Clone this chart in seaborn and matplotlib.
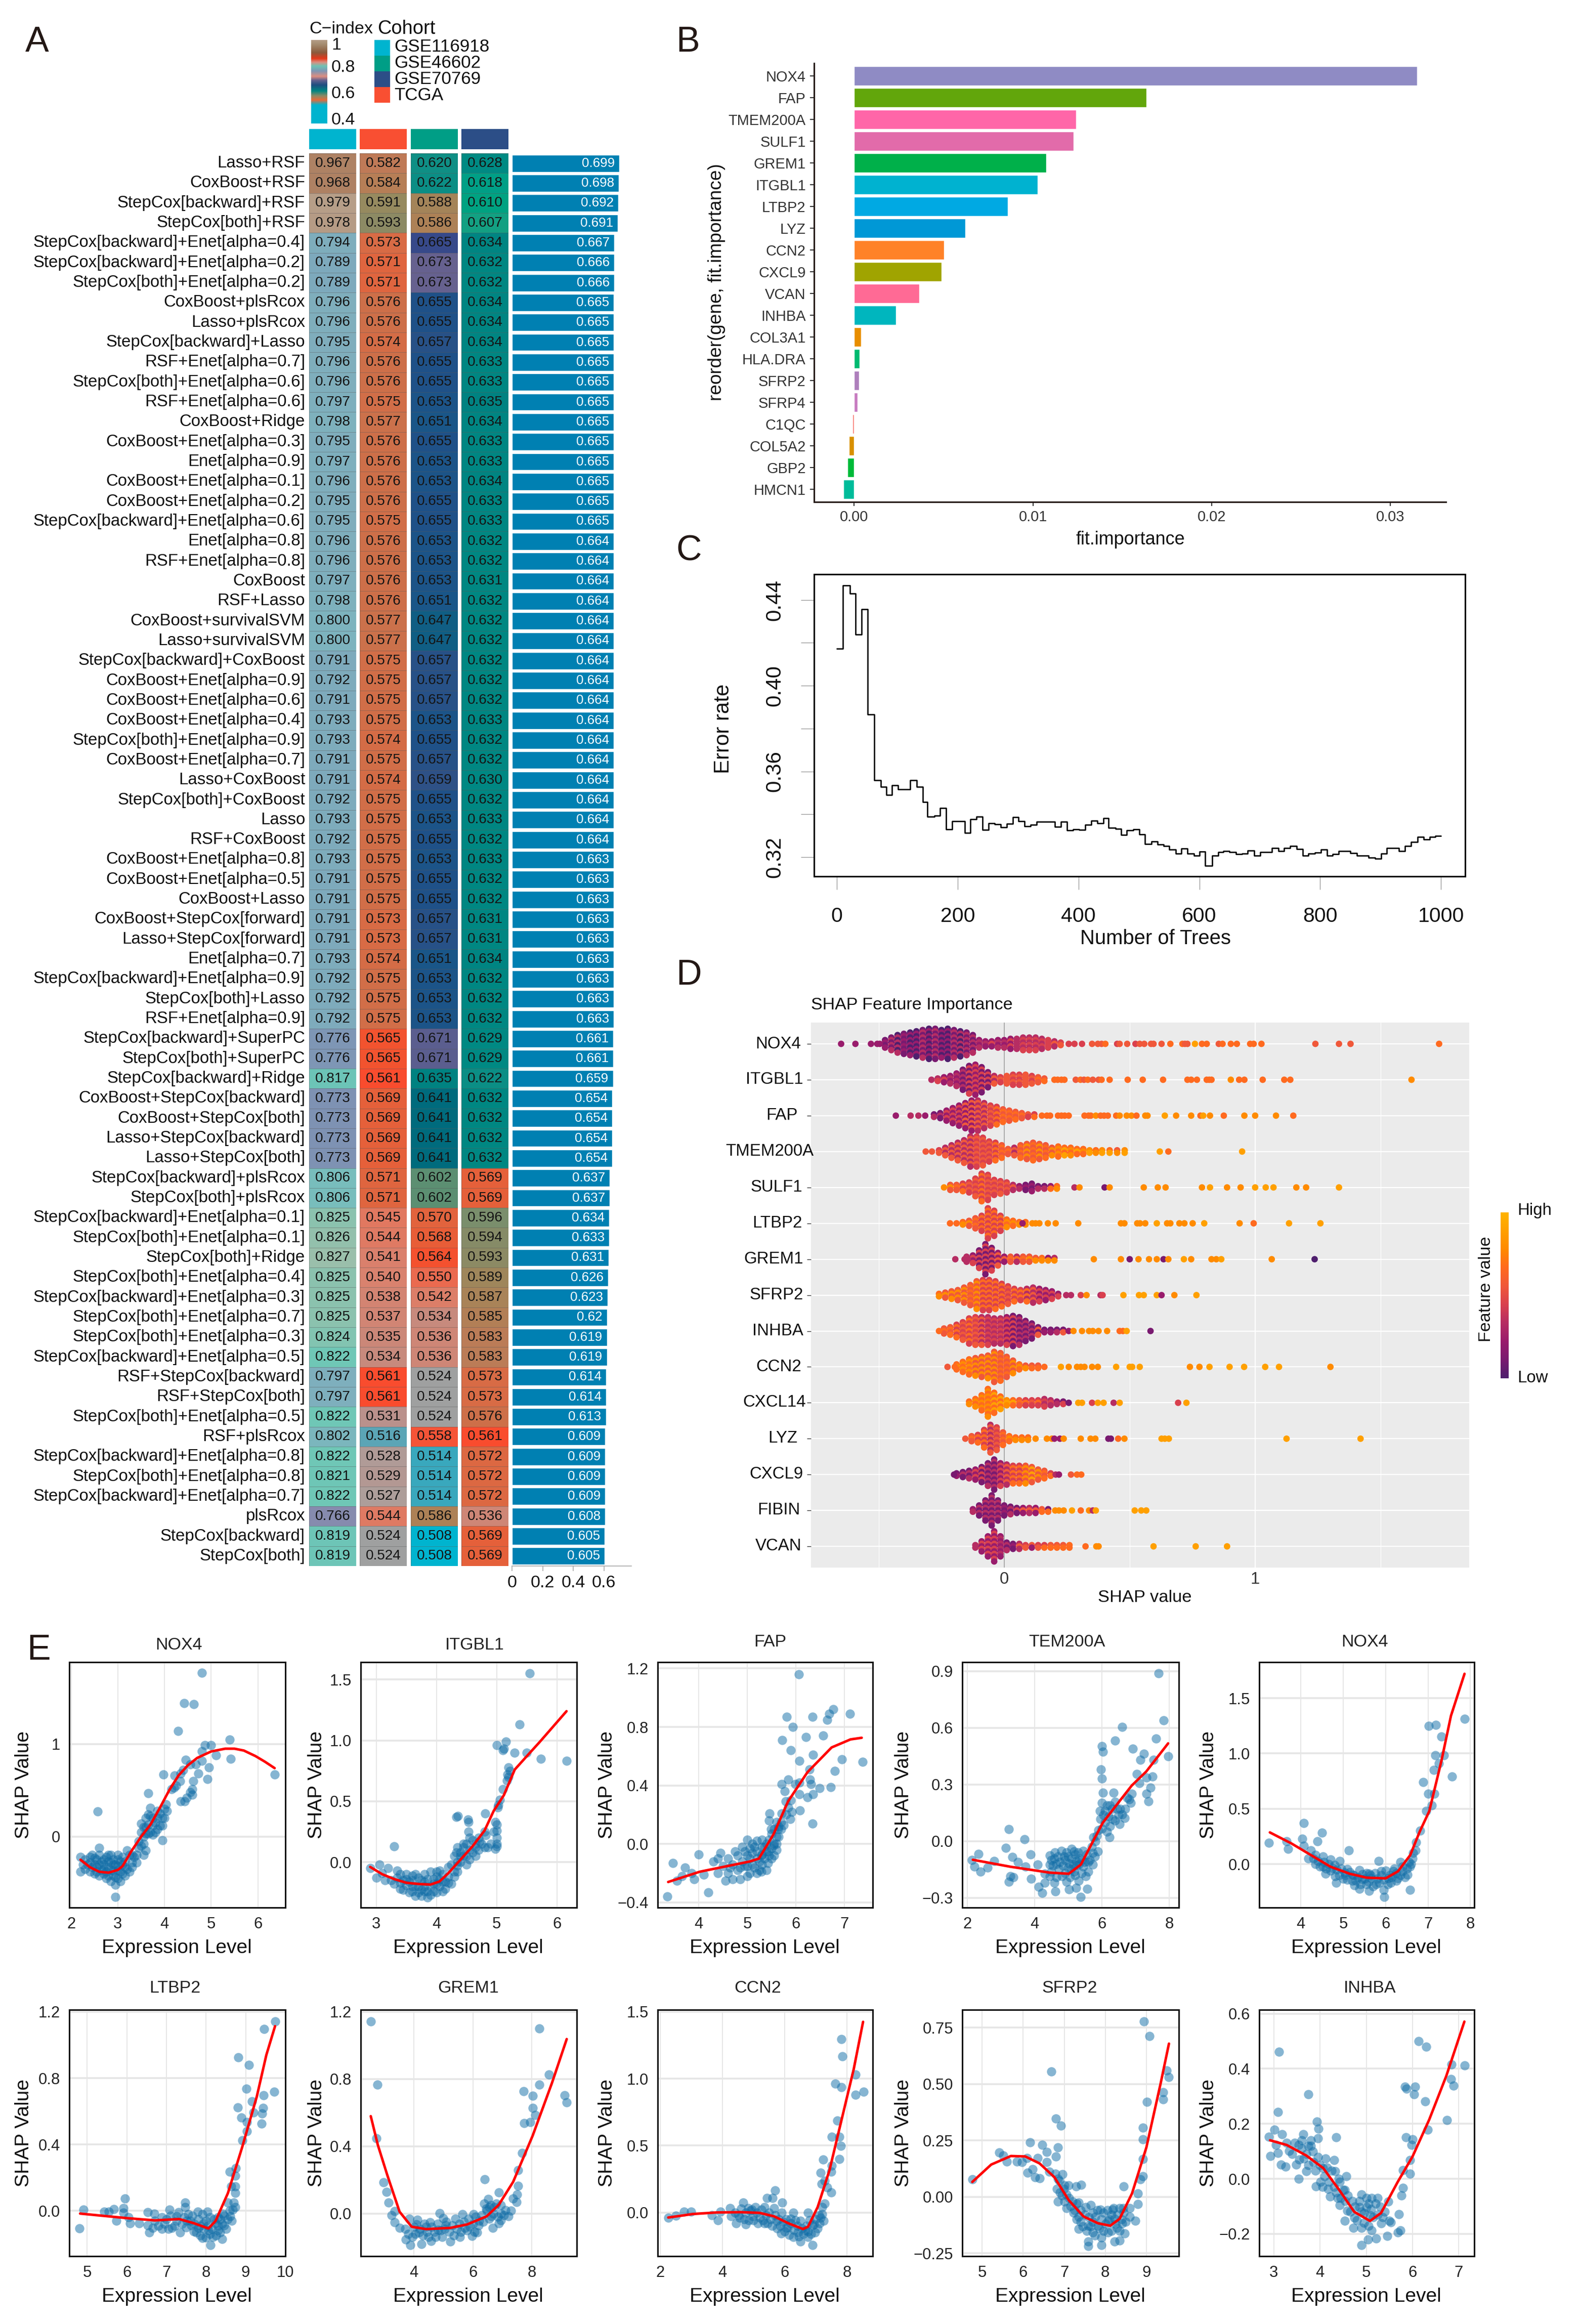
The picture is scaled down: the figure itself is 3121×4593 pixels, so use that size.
import numpy as np
import pandas as pd
import matplotlib
matplotlib.use("Agg")
import matplotlib.pyplot as plt
from matplotlib.colors import LinearSegmentedColormap
import seaborn as sns

sns.set_theme(style="white")
plt.rcParams["font.family"] = ["Liberation Sans", "DejaVu Sans"]

W, H = 3121, 4593

# ---------------- Panel A data ----------------
methods = [
 "Lasso+RSF","CoxBoost+RSF","StepCox[backward]+RSF","StepCox[both]+RSF",
 "StepCox[backward]+Enet[alpha=0.4]","StepCox[backward]+Enet[alpha=0.2]","StepCox[both]+Enet[alpha=0.2]",
 "CoxBoost+plsRcox","Lasso+plsRcox","StepCox[backward]+Lasso","RSF+Enet[alpha=0.7]","StepCox[both]+Enet[alpha=0.6]",
 "RSF+Enet[alpha=0.6]","CoxBoost+Ridge","CoxBoost+Enet[alpha=0.3]","Enet[alpha=0.9]","CoxBoost+Enet[alpha=0.1]",
 "CoxBoost+Enet[alpha=0.2]","StepCox[backward]+Enet[alpha=0.6]","Enet[alpha=0.8]","RSF+Enet[alpha=0.8]","CoxBoost",
 "RSF+Lasso","CoxBoost+survivalSVM","Lasso+survivalSVM","StepCox[backward]+CoxBoost","CoxBoost+Enet[alpha=0.9]",
 "CoxBoost+Enet[alpha=0.6]","CoxBoost+Enet[alpha=0.4]","StepCox[both]+Enet[alpha=0.9]","CoxBoost+Enet[alpha=0.7]",
 "Lasso+CoxBoost","StepCox[both]+CoxBoost","Lasso","RSF+CoxBoost","CoxBoost+Enet[alpha=0.8]","CoxBoost+Enet[alpha=0.5]",
 "CoxBoost+Lasso","CoxBoost+StepCox[forward]","Lasso+StepCox[forward]","Enet[alpha=0.7]","StepCox[backward]+Enet[alpha=0.9]",
 "StepCox[both]+Lasso","RSF+Enet[alpha=0.9]","StepCox[backward]+SuperPC","StepCox[both]+SuperPC","StepCox[backward]+Ridge",
 "CoxBoost+StepCox[backward]","CoxBoost+StepCox[both]","Lasso+StepCox[backward]","Lasso+StepCox[both]",
 "StepCox[backward]+plsRcox","StepCox[both]+plsRcox","StepCox[backward]+Enet[alpha=0.1]","StepCox[both]+Enet[alpha=0.1]",
 "StepCox[both]+Ridge","StepCox[both]+Enet[alpha=0.4]","StepCox[backward]+Enet[alpha=0.3]","StepCox[both]+Enet[alpha=0.7]",
 "StepCox[both]+Enet[alpha=0.3]","StepCox[backward]+Enet[alpha=0.5]","RSF+StepCox[backward]","RSF+StepCox[both]",
 "StepCox[both]+Enet[alpha=0.5]","RSF+plsRcox","StepCox[backward]+Enet[alpha=0.8]","StepCox[both]+Enet[alpha=0.8]",
 "StepCox[backward]+Enet[alpha=0.7]","plsRcox","StepCox[backward]","StepCox[both]"]
gse116918 = [.967,.968,.979,.978,.794,.789,.789,.796,.796,.795,.796,.796,.797,.798,.795,.797,.796,.795,.795,.796,.796,.797,
 .798,.800,.800,.791,.792,.791,.793,.793,.791,.791,.792,.793,.792,.793,.791,.791,.791,.791,.793,.792,.792,.792,.776,.776,
 .817,.773,.773,.773,.773,.806,.806,.825,.826,.827,.825,.825,.825,.824,.822,.797,.797,.822,.802,.822,.821,.822,.766,.819,.819]
tcga = [.582,.584,.591,.593,.573,.571,.571,.576,.576,.574,.576,.576,.575,.577,.576,.576,.576,.576,.575,.576,.576,.576,
 .576,.577,.577,.575,.575,.575,.575,.574,.575,.574,.575,.575,.575,.575,.575,.575,.573,.573,.574,.575,.575,.575,.565,.565,
 .561,.569,.569,.569,.569,.571,.571,.545,.544,.541,.540,.538,.537,.535,.534,.561,.561,.531,.516,.528,.529,.527,.544,.524,.524]
gse46602 = [.620,.622,.588,.586,.665,.673,.673,.655,.655,.657,.655,.655,.653,.651,.655,.653,.653,.655,.655,.653,.653,.653,
 .651,.647,.647,.657,.657,.657,.653,.655,.657,.659,.655,.653,.655,.653,.655,.655,.657,.657,.651,.653,.653,.653,.671,.671,
 .635,.641,.641,.641,.641,.602,.602,.570,.568,.564,.550,.542,.534,.536,.536,.524,.524,.524,.558,.514,.514,.514,.586,.508,.508]
gse70769 = [.628,.618,.610,.607,.634,.632,.632,.634,.634,.634,.633,.633,.635,.634,.633,.633,.634,.633,.633,.632,.632,.631,
 .632,.632,.632,.632,.632,.632,.633,.632,.632,.630,.632,.633,.632,.633,.632,.632,.631,.631,.634,.632,.632,.632,.629,.629,
 .622,.632,.632,.632,.632,.569,.569,.596,.594,.593,.589,.587,.585,.583,.583,.573,.573,.576,.561,.572,.572,.572,.536,.569,.569]
mean_cindex = [.699,.698,.692,.691,.667,.666,.666,.665,.665,.665,.665,.665,.665,.665,.665,.665,.665,.665,.665,.664,.664,.664,
 .664,.664,.664,.664,.664,.664,.664,.664,.664,.664,.664,.664,.664,.663,.663,.663,.663,.663,.663,.663,.663,.663,.661,.661,
 .659,.654,.654,.654,.654,.637,.637,.634,.633,.631,.626,.623,.62,.619,.619,.614,.614,.613,.609,.609,.609,.609,.608,.605,.605]
cohort_order = ["GSE116918","TCGA","GSE46602","GSE70769"]
cohort_colors = {"GSE116918":"#00B4CF","GSE46602":"#009E86","GSE70769":"#2C4E87","TCGA":"#F94F32"}
legend_cohorts = ["GSE116918","GSE46602","GSE70769","TCGA"]

heat_stops = [(.5,"#00B4CF"),(.508,"#00B4CF"),(.514,"#3AA8BD"),(.516,"#5BA5B6"),(.524,"#A0A0A0"),(.527,"#AD9E9A"),
 (.531,"#BA918C"),(.535,"#CB8778"),(.540,"#D9826E"),(.544,"#DF7A63"),(.550,"#EA6A4F"),(.561,"#F94C2E"),(.565,"#F2532F"),
 (.569,"#E5603A"),(.573,"#D86B45"),(.576,"#CD6F49"),(.582,"#BF7A57"),(.586,"#AD8156"),(.591,"#968A5F"),(.593,"#8C8A64"),
 (.596,"#7A8E6C"),(.602,"#5C8F72"),(.607,"#12A082"),(.610,"#00A281"),(.618,"#009F86"),(.620,"#0F8F85"),(.628,"#008A83"),
 (.634,"#008582"),(.641,"#006B7D"),(.651,"#1A5688"),(.655,"#1F5188"),(.659,"#2E5186"),(.665,"#37498A"),(.671,"#5B5E8F"),
 (.673,"#66618F"),(.766,"#868BAE"),(.773,"#7E92B3"),(.776,"#7E96B5"),(.789,"#7DA9BC"),(.796,"#7FAEBC"),(.80,"#7DB3BE"),
 (.806,"#78BDBC"),(.817,"#6CC4B7"),(.822,"#6FC7B6"),(.825,"#8BC2AE"),(.827,"#9ABFAB"),(.96,"#B08A6E"),(.968,"#AE8163"),
 (.979,"#B69E88"),(1.0,"#B49C86")]
legend_stops = [(0,"#00B4CF"),(.22,"#00B4CF"),(.28,"#E56A3A"),(.33,"#8C8A64"),(.39,"#008582"),(.46,"#1F4E80"),(.52,"#66618F"),
 (.565,"#DD8E80"),(.63,"#7E96B5"),(.69,"#6FC3B4"),(.735,"#DD8E80"),(.78,"#E3381B"),(.85,"#8A5A3C"),(.95,"#A58D70"),(1,"#B49C86")]

# ---------------- Panel B data ----------------
b_genes = ["NOX4","FAP","TMEM200A","SULF1","GREM1","ITGBL1","LTBP2","LYZ","CCN2","CXCL9","VCAN","INHBA","COL3A1","HLA.DRA",
 "SFRP2","SFRP4","C1QC","COL5A2","GBP2","HMCN1"]
b_importance = [.0315,.01636,.01241,.01227,.01074,.01027,.0086,.00623,.00502,.00488,.00364,.00234,.0004,.00031,.00029,.0002,
 -.00008,-.00028,-.00038,-.0006]
b_colors = ["#8F8BC4","#62A60B","#FF66A8","#E26BAA","#00B04A","#00B2D0","#00A9E3","#0098D6","#FF8228","#A0A400","#FF6A95",
 "#00B6BE","#E88E00","#00BA70","#AE7FBC","#C77CC0","#F8766D","#D89000","#00BA38","#00BC9A"]

# ---------------- Panel C data ----------------
c_trees = [0,10,22,31,41,51,62,73,82,91,101,121,132,142,150,162,171,181,191,212,221,231,241,251,261,271,281,291,301,311,321,331,
 361,371,381,391,401,411,421,431,441,450,461,471,480,491,501,510,521,531,541,550,561,570,580,591,600,610,621,631,640,650,661,
 671,680,691,701,720,731,740,750,761,771,780,791,801,811,821,831,850,861,880,891,901,910,930,940,950,961,971,981,991,1000]
c_error = [.4172,.4469,.4431,.4240,.4357,.3866,.3558,.3527,.3490,.3535,.3516,.3559,.3527,.3457,.3388,.3394,.3429,.3329,.3367,.3312,
 .3378,.3388,.3327,.3358,.3353,.3340,.3355,.3387,.3367,.3343,.3351,.3364,.3341,.3364,.3324,.3329,.3327,.3351,.3369,.3358,.3382,
 .3336,.3331,.3304,.3324,.3330,.3307,.3260,.3273,.3258,.3252,.3234,.3217,.3240,.3216,.3208,.3225,.3160,.3206,.3224,.3228,.3224,
 .3213,.3216,.3231,.3208,.3224,.3242,.3228,.3242,.3252,.3237,.3208,.3216,.3222,.3236,.3207,.3213,.3228,.3219,.3206,.3198,.3192,
 .3216,.3242,.3228,.3252,.3270,.3294,.3282,.3294,.3298,.3298]

# ---------------- Panel D data: (shap bin, dots in bin, colour level a, colour level b) ----------------
d_genes = ["NOX4","ITGBL1","FAP","TMEM200A","SULF1","LTBP2","GREM1","SFRP2","INHBA","CCN2","CXCL14","LYZ","CXCL9","FIBIN","VCAN"]
NOX4_core = [(-.475,4,1,2),(-.45,6,1,3),(-.425,8,0,3),(-.4,9,1,2),(-.375,10,0,2),(-.35,11,0,2),(-.325,12,1,3),(-.3,13,0,2),
 (-.275,13,1,3),(-.25,12,0,2),(-.225,13,0,2),(-.2,12,1,3),(-.175,11,0,3),(-.15,10,1,3),(-.125,8,1,3),(-.1,4,2,3),(-.075,3,2,3),
 (-.05,3,2,4),(-.025,4,2,3),(0,4,2,3),(.025,5,2,4),(.05,5,3,3),(.075,6,3,4),(.1,6,3,4),(.125,6,3,4),(.15,5,3,4),(.175,4,4,4),(.2,3,3,5),(.225,2,4,5)]
NOX4_tail = [(-.65,2),(-.593,2),(-.531,2),(-.506,2),(-.496,2),(.257,4),(.28,4),(.31,4),(.35,5),(.373,5),(.388,5),(.403,6),(.45,4),
 (.46,5),(.49,5),(.523,4),(.54,5),(.558,5),(.585,5),(.595,5),(.627,5),(.662,6),(.71,6),(.72,5),(.73,5),(.76,8),(.788,6),(.807,6),
 (.855,5),(.87,6),(.903,6),(.927,6),(.98,6),(.994,6),(1.025,6),(1.24,5),(1.334,5),(1.38,5),(1.733,6)]
ITGBL1_core = [(-.29,1,3,3),(-.265,2,3,4),(-.24,3,2,4),(-.215,4,2,3),(-.19,6,2,3),(-.165,9,1,3),(-.14,12,1,4),(-.115,13,2,4),(-.09,11,1,4),
 (-.065,7,1,4),(-.04,4,3,5),(-.015,3,4,5),(.01,4,5,5),(.035,5,4,5),(.06,5,4,5),(.085,5,5,5),(.11,4,4,5),(.135,3,5,6),(.16,2,5,6)]
ITGBL1_tail = [(.2,6),(.213,6),(.228,6),(.24,6),(.285,5),(.304,6),(.318,5),(.333,6),(.353,5),(.376,5),(.388,6),(.42,6),(.492,6),(.552,6),
 (.633,6),(.73,6),(.745,6),(.768,6),(.807,6),(.817,6),(.826,6),(.903,7),(.936,6),(.957,6),(1.03,6),(1.116,6),(1.14,6),(1.623,7)]
FAP_core = [(-.28,2,1,3),(-.255,3,1,3),(-.23,5,2,4),(-.205,7,2,4),(-.18,9,2,4),(-.155,11,2,5),(-.13,13,2,5),(-.105,13,3,5),(-.08,11,3,5),
 (-.055,9,4,5),(-.03,8,4,6),(-.005,6,5,6),(.02,5,5,6),(.045,4,5,6),(.07,3,5,6),(.095,2,5,4),(.12,2,4,6)]
FAP_tail = [(-.432,2),(-.373,3),(-.342,3),(-.315,2),(.15,6),(.17,6),(.183,6),(.214,6),(.228,6),(.241,6),(.257,6),(.32,6),(.336,6),(.345,6),(.365,7),
 (.384,6),(.398,6),(.413,6),(.446,6),(.46,7),(.488,7),(.507,7),(.527,6),(.562,7),(.571,7),(.64,8),(.685,7),(.745,7),(.782,6),(.793,8),
 (.82,7),(.875,6),(.957,7),(1.0,7),(1.083,7),(1.152,6)]
TMEM200A_core = [(-.26,2,4,5),(-.235,4,3,5),(-.21,6,3,5),(-.185,8,3,5),(-.16,10,3,5),(-.135,13,3,5),(-.11,13,4,5),(-.085,12,4,5),(-.06,9,4,5),
 (-.035,8,4,6),(-.01,6,5,6),(.015,3,5,6),(.04,4,3,5),(.065,6,5,6),(.09,7,5,7),(.115,8,5,6),(.14,7,5,7),(.165,6,5,6),(.19,4,5,7),(.215,5,6,7),
 (.24,4,6,8),(.265,4,6,7),(.29,3,6,8),(.315,3,6,7),(.34,2,7,8),(.365,2,6,7),(.39,2,7,8),(.42,2,6,8),(.45,2,5,7),(.48,2,7,8)]
TMEM200A_tail = [(-.313,5),(-.288,5),(.62,8),(.654,6),(.948,8)]
SULF1_core = [(-.24,1,7,7),(-.215,3,5,7),(-.19,3,5,6),(-.165,4,4,6),(-.14,5,4,5),(-.115,8,4,5),(-.09,12,4,6),(-.065,11,4,5),(-.04,7,4,5),(-.015,6,4,5),
 (.01,5,4,5),(.035,3,3,5),(.06,2,2,3),(.085,3,1,2),(.11,4,1,2),(.135,2,1,3),(.16,2,1,3),(.185,2,2,6),(.21,2,6,7)]
SULF1_tail = [(.28,3),(.3,7),(.40,1),(.42,7),(.556,7),(.612,7),(.643,7),(.788,7),(.82,8),(.888,7),(.942,7),(1.0,8),(1.042,8),(1.073,8),(1.164,7),(1.203,7),(1.334,8)]
LTBP2_core = [(-.165,2,6,7),(-.14,3,5,7),(-.115,5,5,6),(-.09,7,4,6),(-.065,13,4,6),(-.04,11,4,6),(-.015,7,4,6),(.01,4,6,7),(.035,3,6,7),(.06,2,6,7),(.085,2,6,7)]
LTBP2_tail = [(-.216,6),(-.19,6),(.073,2),(.112,7),(.125,7),(.14,7),(.174,7),(.205,7),(.295,7),(.465,7),(.479,7),(.53,7),(.541,7),(.562,7),(.608,8),(.649,7),
 (.662,7),(.698,7),(.718,7),(.751,7),(.797,8),(.938,7),(.994,6),(1.135,8),(1.26,8)]
GREM1_core = [(-.15,3,3,4),(-.125,4,2,4),(-.10,8,1,4),(-.075,13,1,4),(-.05,10,1,4),(-.025,6,2,5),(0,3,2,5),(.025,3,5,6),(.05,3,3,6),(.075,3,5,6),(.10,3,5,7),
 (.125,2,5,7),(.15,2,6,7),(.175,2,2,7),(.20,2,3,7)]
GREM1_tail = [(-.195,3),(-.158,3),(-.145,3),(.357,7),(.465,7),(.5,1),(.535,7),(.577,7),(.608,7),(.635,1),(.654,7),(.716,8),(.745,7),(.826,7),(.845,7),(.865,8),(1.066,7),(1.237,0)]
SFRP2_core = [(-.26,2,6,7),(-.235,3,5,7),(-.21,4,5,7),(-.185,5,5,7),(-.16,7,5,7),(-.135,9,5,6),(-.11,12,5,7),(-.085,13,4,6),(-.06,13,4,6),(-.035,12,4,6),(-.01,10,4,6),
 (.015,8,4,5),(.04,6,4,6),(.065,5,4,6),(.09,6,3,6),(.115,7,3,5),(.14,6,2,4),(.165,5,2,4),(.19,4,2,4),(.215,2,2,4)]
SFRP2_tail = [(.247,3),(.266,3),(.305,4),(.328,7),(.384,3),(.392,4),(.475,8),(.537,8),(.556,8),(.608,8),(.627,2),(.678,7),(.766,8)]
INHBA_core = [(-.24,3,5,6),(-.215,4,5,6),(-.19,6,4,6),(-.165,8,4,5),(-.14,11,4,6),(-.115,12,4,5),(-.09,12,3,5),(-.065,12,3,4),(-.04,11,3,4),(-.015,11,3,4),(.01,12,2,4),
 (.035,13,1,4),(.06,12,1,3),(.085,9,1,3),(.11,7,1,3),(.135,4,1,5),(.16,2,1,2),(.185,2,1,2),(.21,2,1,3),(.235,2,1,5)]
INHBA_tail = [(-.26,6),(.257,2),(.276,7),(.31,7),(.338,7),(.353,7),(.376,7),(.41,7),(.46,6),(.473,6),(.488,8),(.583,1)]
CCN2_core = [(-.19,3,6,7),(-.165,5,6,7),(-.14,7,6,7),(-.115,8,5,7),(-.09,9,5,7),(-.065,10,5,7),(-.04,13,5,7),(-.015,12,5,6),(.01,9,5,6),(.035,6,5,7),(.06,3,6,7),(.085,2,5,7),(.11,2,5,6),(.135,2,5,6)]
CCN2_tail = [(-.226,5),(-.197,6),(.16,6),(.226,8),(.257,7),(.29,7),(.305,7),(.32,7),(.35,7),(.373,7),(.446,8),(.5,8),(.51,8),(.54,8),(.74,7),(.778,7),(.818,8),(.898,8),(.956,8),(1.04,8),(1.095,8),(1.30,7)]
CXCL14_core = [(-.14,2,6,7),(-.115,4,6,7),(-.09,7,6,7),(-.065,12,6,7),(-.04,9,6,8),(-.015,6,6,8),(.01,3,7,8),(.035,3,6,8),(.06,3,5,6),(.085,3,4,6),(.11,3,4,5),(.135,3,4,6),(.16,4,3,4),(.185,3,3,4),(.21,2,2,3),(.235,2,1,4)]
CXCL14_tail = [(.257,1),(.295,8),(.31,8),(.35,4),(.373,8),(.396,8),(.436,3),(.46,8),(.693,4),(.726,8)]
LYZ_core = [(-.155,1,5,5),(-.13,3,5,6),(-.105,4,4,6),(-.08,8,4,6),(-.055,12,3,5),(-.03,10,4,5),(-.005,6,5,6),(.02,3,6,7),(.045,2,6,7),(.07,2,6,7),(.095,2,6,7)]
LYZ_tail = [(.125,7),(.17,7),(.19,7),(.2,2),(.222,2),(.237,7),(.305,7),(.344,7),(.363,7),(.415,1),(.425,1),(.454,6),(.479,7),(.627,8),(.64,8),(.656,8),(1.125,8),(1.42,8)]
CXCL9_core = [(-.19,2,1,2),(-.165,3,1,3),(-.14,4,1,3),(-.115,5,2,4),(-.09,7,1,4),(-.065,10,1,3),(-.04,13,1,3),(-.015,10,2,4),(.01,9,3,5),(.035,8,4,6),(.06,8,4,6),(.085,8,5,7),(.11,7,5,8),(.135,5,5,7),(.16,4,5,6),(.185,2,4,6),(.205,1,3,3)]
CXCL9_tail = [(-.2,1),(.218,2),(.266,5),(.29,6),(.307,6)]
FIBIN_core = [(-.125,2,2,3),(-.10,5,1,3),(-.075,9,1,3),(-.05,13,1,3),(-.025,9,1,3),(0,5,1,2),(.025,4,1,3),(.05,3,1,4),(.075,3,2,5),(.10,3,3,5),(.125,3,2,5),(.15,2,5,6),(.175,2,1,6)]
FIBIN_tail = [(.203,7),(.218,7),(.237,7),(.27,8),(.305,6),(.338,7),(.353,3),(.365,8),(.52,8),(.546,8),(.566,8)]
VCAN_core = [(-.115,2,3,3),(-.09,5,2,4),(-.065,9,2,4),(-.04,13,2,4),(-.015,9,2,3),(.01,4,1,3),(.035,3,1,2),(.06,3,3,5),(.085,2,4,5),(.11,2,5,2),(.135,2,4,5),(.16,2,4,6),(.185,2,5,6),(.21,2,5,6),(.235,2,5,6),(.26,2,6,6)]
VCAN_tail = [(.324,6),(.367,7),(.376,7),(.595,8),(.763,8),(.888,8)]
d_core = [NOX4_core,ITGBL1_core,FAP_core,TMEM200A_core,SULF1_core,LTBP2_core,GREM1_core,SFRP2_core,INHBA_core,CCN2_core,CXCL14_core,LYZ_core,CXCL9_core,FIBIN_core,VCAN_core]
d_tail = [NOX4_tail,ITGBL1_tail,FAP_tail,TMEM200A_tail,SULF1_tail,LTBP2_tail,GREM1_tail,SFRP2_tail,INHBA_tail,CCN2_tail,CXCL14_tail,LYZ_tail,CXCL9_tail,FIBIN_tail,VCAN_tail]
shap_colors = ["#4F1F6E","#7A1A70","#9A1C6C","#B62D63","#D9404E","#F0583A","#FF6A1F","#FF8A00","#FFA000","#FFB400"]

# ---------------- Panel E data ----------------
E1_pts = [(4.8,1.77),(4.42,1.44),(4.63,1.43),(4.29,1.14),(2.57,.27),(3.65,.47),(5.4,1.05),(5.0,.99),(4.87,.99),(4.8,.92),(5.42,.84),(5.1,.88),(4.95,.75),(4.92,.62),(6.36,.67),
 (4.45,.83),(4.8,.82),(4.55,.78),(4.67,.78),(4.4,.72),(3.98,.67),(4.22,.66),(4.35,.68),(4.34,.6),(4.62,.6),(4.72,.68),(4.2,.53),(4.15,.51),(4.25,.55),(4.55,.48),(4.6,.45),(4.6,.51),
 (4.35,.38),(4.43,.38),(4.48,.42),(4.03,.35),(3.7,.31),(3.65,.24),(3.7,.22),(3.5,.14),(3.9,.25),(4.0,.2),(3.95,.12),(3.85,.08),(3.75,.12),(3.6,.1),(3.55,.0),(3.65,.03),(3.95,-.04),
 (3.8,.05),(3.5,-.1),(3.6,-.15),(3.4,-.2),(3.55,-.2),(3.3,-.28),(3.2,-.15),(3.25,-.2),(2.6,-.12),(2.2,-.22),(2.5,-.23),(2.45,-.2),(2.35,-.3),(2.7,-.25),(2.8,-.2),(2.85,-.28),(2.9,-.3),
 (3.0,-.25),(3.1,-.3),(2.6,-.3),(2.7,-.35),(2.8,-.33),(2.9,-.42),(3.0,-.45),(3.1,-.4),(2.2,-.38),(2.3,-.35),(2.5,-.4),(2.6,-.42),(2.75,-.45),(2.85,-.48),(2.95,-.52),(3.05,-.48),
 (3.15,-.42),(3.25,-.38),(3.3,-.33),(3.4,-.28),(2.95,-.65),(2.4,-.28),(2.55,-.33),(3.15,-.33),(2.9,-.37),(3.0,-.36),(2.7,-.4),(3.35,-.22)]
E1_dense = [(2.25,-.3),(2.3,-.25),(2.4,-.22),(2.4,-.38),(2.45,-.33),(2.5,-.3),(2.55,-.25),(2.55,-.38),(2.6,-.2),(2.65,-.27),(2.65,-.36),(2.7,-.3),(2.75,-.22),(2.75,-.38),(2.8,-.27),(2.8,-.42),(2.85,-.2),(2.85,-.36),(2.9,-.25),(2.95,-.3),
 (2.95,-.44),(3.0,-.2),(3.0,-.32),(3.05,-.27),(3.05,-.38),(3.1,-.22),(3.15,-.27),(3.2,-.35),(3.3,-.2),(3.45,-.12),(3.45,-.05),(3.55,-.08),(3.5,.05),(3.6,.03),(3.65,.13),(3.7,.05),(3.75,.02),(3.75,.2),(3.8,.15),(3.85,.2),(3.9,.12),(3.95,.2),
 (4.0,.3),(4.05,.28),(3.55,.1),(3.6,.2),(3.85,.28)]
E1_curve = [(2.2,-.25),(2.4,-.33),(2.6,-.38),(2.8,-.39),(3.0,-.36),(3.1,-.32),(3.3,-.15),(3.5,.0),(3.7,.13),(3.9,.31),(4.1,.5),(4.3,.66),(4.5,.77),(4.7,.85),(5.0,.92),(5.3,.95),(5.5,.95),(5.7,.93),(5.95,.87),(6.15,.81),(6.36,.74)]
E2_pts = [(5.55,1.55),(5.38,1.13),(5.15,.99),(5.0,.96),(5.12,.93),(5.1,.92),(5.3,.9),(5.5,.9),(5.73,.85),(6.16,.83),(5.2,.78),(5.22,.75),(5.18,.72),(5.2,.7),(5.17,.67),(5.1,.6),(5.05,.51),(5.03,.47),
 (5.02,.45),(4.81,.4),(4.36,.38),(4.33,.37),(4.52,.35),(4.53,.33),(4.98,.33),(5.0,.31),(5.0,.26),(4.95,.25),(4.53,.25),(4.82,.22),(5.0,.2),(5.0,.15),(5.0,.13),(4.98,.11),(4.55,.2),(4.6,.18),(4.5,.15),
 (4.65,.15),(4.72,.17),(4.8,.12),(4.85,.12),(4.35,.12),(4.33,.08),(4.4,.08),(4.45,.05),(4.55,.02),(4.65,.05),(4.7,.1),(4.3,.05),(4.4,0.0),(4.5,-.02),(3.3,.13),(3.05,-.02),(2.9,-.05),(3.2,-.05),(3.35,-.07),
 (3.1,-.09),(3.0,-.13),(3.15,-.15),(3.25,-.15),(3.4,-.1),(3.45,-.15),(3.5,-.19),(3.6,-.11),(3.7,-.13),(3.8,-.16),(3.9,-.08),(4.0,-.12),(4.05,-.07),(4.2,-.04),(4.25,-.02),(3.55,-.25),(3.65,-.28),(3.75,-.23),
 (3.85,-.29),(3.95,-.24),(4.05,-.2),(4.15,-.22),(4.2,-.17),(4.3,-.12),(3.4,-.22),(3.5,-.14),(3.7,-.2),(3.8,-.24),(3.9,-.2),(4.0,-.18),(4.1,-.16),(3.6,-.2),(4.35,-.08)]
E2_dense = [(3.3,-.18),(3.35,-.13),(3.4,-.17),(3.45,-.23),(3.5,-.1),(3.55,-.16),(3.6,-.24),(3.6,-.15),(3.65,-.1),(3.65,-.2),(3.7,-.25),(3.75,-.15),(3.75,-.28),(3.8,-.1),(3.8,-.2),(3.85,-.14),(3.85,-.24),(3.9,-.27),(3.95,-.14),(3.95,-.18),
 (4.0,-.25),(4.0,-.08),(4.05,-.14),(4.1,-.24),(4.1,-.1),(4.15,-.16),(4.2,-.12),(4.25,-.18),(4.3,-.08),(4.35,0),(4.35,-.03),(4.4,.05),(4.45,.12),(4.5,.05),(4.55,.1),(4.6,.08),(4.65,.12),(4.7,.2),(4.75,.15),(4.8,.25),(4.9,.15),(4.45,.15)]
E2_curve = [(2.9,-.04),(3.1,-.1),(3.3,-.14),(3.5,-.17),(3.7,-.18),(3.9,-.185),(4.05,-.16),(4.2,-.09),(4.4,.02),(4.6,.13),(4.8,.26),(4.95,.42),(5.12,.55),(5.3,.76),(5.5,.87),(5.72,.99),(6.16,1.24)]
E3_pts = [(3.35,-.36),(3.47,-.13),(3.55,-.25),(3.65,-.22),(3.72,-.16),(3.85,-.2),(3.9,-.24),(4.0,-.07),(4.1,-.21),(4.2,-.33),(4.3,-.12),(4.4,-.2),(4.4,-.1),(4.45,-.06),(4.5,-.15),(4.55,-.25),(4.6,-.1),(4.7,-.14),
 (4.7,-.24),(4.75,-.05),(4.8,-.18),(4.9,-.02),(4.9,-.12),(5.0,-.22),(5.0,-.08),(5.0,.03),(5.1,-.14),(5.1,.0),(5.2,-.1),(5.2,-.2),(5.3,-.02),(5.3,-.14),(5.4,-.05),(5.4,-.18),(5.5,-.1),(5.55,0.0),(5.6,-.04),(5.6,.05),
 (5.65,.12),(6.06,1.16),(5.81,.87),(6.77,.92),(6.69,.89),(6.65,.85),(6.35,.87),(7.12,.89),(5.94,.80),(5.72,.71),(6.21,.73),(6.57,.74),(5.9,.64),(6.36,.61),(6.07,.57),(6.95,.58),(7.38,.56),(6.8,.5),(6.28,.51),(5.71,.41),
 (5.85,.44),(5.99,.41),(6.07,.42),(6.29,.44),(6.31,.41),(6.72,.39),(6.49,.38),(5.77,.36),(6.07,.34),(6.36,.34),(6.24,.32),(5.79,.29),(6.09,.23),(5.92,.22),(5.46,.21),(5.71,.21),(5.89,.17),(5.45,.16),(6.35,.14),(5.49,.1),
 (5.64,.1),(5.54,-.01),(5.44,-.05),(5.29,-.08),(5.43,-.13),(5.29,-.19)]
E3_dense = [(4.6,-.2),(4.65,-.16),(4.8,-.08),(4.85,-.16),(4.85,-.24),(4.95,-.15),(4.95,-.05),(5.0,-.15),(5.05,-.1),(5.05,-.03),(5.05,-.2),(5.1,-.06),(5.15,-.16),(5.15,-.02),(5.2,-.05),(5.2,.02),(5.25,-.12),(5.25,-.18),(5.3,-.07),(5.3,.03),
 (5.35,-.1),(5.35,-.02),(5.4,.0),(5.45,-.08),(5.45,.03),(5.5,-.03),(5.5,.07),(5.55,-.08),(5.55,.1),(5.6,.0),(5.65,.05),(5.7,.1),(5.7,.15),(5.75,.13),(5.8,.2),(5.6,.15),(5.85,.25),(5.9,.3)]
E3_curve = [(3.37,-.26),(4.02,-.19),(5.05,-.12),(5.24,-.10),(5.54,.065),(5.84,.29),(6.24,.49),(6.74,.66),(7.13,.715),(7.36,.726)]
E4_pts = [(7.68,.888),(7.84,.641),(6.6,.604),(6.4,.534),(7.61,.543),(6,.504),(6.03,.473),(6.92,.491),(7.25,.464),(7.15,.43),(7.54,.432),(7.97,.451),(5.97,.381),(6,.332),(7.04,.356),(7.5,.342),(7.32,.338),(7.11,.307),(7.44,.285),
 (7.32,.252),(6.03,.256),(6.35,.256),(6.89,.252),(7.38,.211),(6.82,.221),(6.86,.203),(6,.203),(6.24,.19),(6.46,.172),(6.1,.16),(6.6,.141),(5.96,.117),(6.68,.123),(6.32,.117),(6.24,.08),(6,.068),(6.53,.092),(6.23,.022),(3.24,.065),
 (3.71,.01),(3.15,-.034),(2.33,-.068),(2.14,-.098),(3.88,-.069),(3.34,-.084),(2.81,-.104),(2.22,-.135),(2.39,-.16),(2.6,-.14),(3.51,-.11),(3.29,-.184),(3.24,-.215),(3.37,-.19),(3.73,-.135),(3.9,-.197),(4.09,-.123),(4.3,-.172),
 (4.13,-.24),(4.23,-.273),(4.62,-.264),(4.3,-.22),(5.02,-.254),(5.24,-.246),(5.38,-.295),(5.57,-.252),(4.59,-.221),(4.95,-.215),(5.31,-.209),(4.45,-.074),(4.59,-.092),(4.88,-.08),(5.17,-.055),(5.02,-.117),(5.24,-.104),(4.73,-.147),
 (4.45,-.123),(5.45,-.135),(5.6,-.11),(5.74,-.061),(5.81,0),(5.88,-.055),(5.74,-.123),(5.53,-.184),(5.17,-.16),(4.81,-.184),(4.45,-.184),(5.31,-.123),(5.09,-.147)]
E4_dense = [(4.5,-.1),(4.5,-.16),(4.55,-.13),(4.6,-.06),(4.65,-.12),(4.65,-.19),(4.7,-.08),(4.75,-.11),(4.8,-.05),(4.85,-.13),(4.9,-.1),(4.9,-.17),(4.95,-.06),(5.0,-.08),(5.0,-.14),(5.05,-.19),(5.1,-.09),(5.1,-.04),(5.15,-.12),(5.2,-.18),
 (5.2,-.07),(5.25,-.13),(5.3,-.06),(5.35,-.09),(5.4,-.17),(5.4,-.1),(5.45,-.05),(5.5,-.11),(5.55,-.07),(5.6,-.16),(5.65,-.1),(5.7,-.03),(5.75,.02),(5.8,-.08),(5.85,.03),(5.9,.06),(5.95,.16),(6.05,.14),(6.1,.1),(6.15,.19),(6.2,.13),(6.3,.17),
 (6.4,.11),(6.5,.14),(6.55,.17),(6.7,.17),(6.75,.23),(6.15,.05),(6.4,.21)]
E4_curve = [(2.17,-.098),(3.29,-.135),(4.45,-.166),(5.02,-.172),(5.38,-.123),(5.74,0),(6.03,.098),(6.46,.197),(6.89,.295),(7.32,.369),(7.97,.518)]
E5_pts = [(7.86,1.314),(7.02,1.25),(7.18,1.26),(7.32,1.155),(7.17,.983),(7.38,.983),(7.25,.91),(7.13,.853),(7.56,.79),(6.88,.74),(7,.637),(7.15,.637),(7.09,.532),(6.96,.48),(6.81,.302),(6.72,.197),(6.71,.124),(4.07,.371),(4.5,.285),
 (3.25,.191),(3.67,.208),(4.03,.229),(4.39,.208),(3.7,.138),(5.13,.124),(4.07,.166),(4.24,.124),(4.18,.05),(4.35,.082),(4.52,.07),(4.7,.04),(4.92,.03),(4.52,-.023),(4.35,0),(4.75,-.034),(4.83,-.17),(4.58,-.086),(4.81,-.107),(5.09,-.044),
 (5.21,-.149),(5.38,-.222),(5.61,-.243),(5.38,-.055),(5.61,-.086),(5.83,.029),(5.89,-.065),(5.95,-.233),(5.97,-.296),(6.12,-.17),(6.58,-.233),(6.35,.019),(6.63,.05),(6.58,-.023),(6.4,-.065),(6.18,-.065),(6.52,-.096),(6.29,-.128),(5.66,-.128),
 (5.44,-.138),(5.21,-.096),(5.04,-.075),(5.78,-.18),(6.06,-.128),(5.55,-.18),(5.26,-.191)]
E5_dense = [(4.3,.05),(4.4,.03),(4.45,-.02),(4.55,.02),(4.6,-.04),(4.65,.0),(4.7,-.06),(4.8,-.01),(4.85,-.05),(4.9,-.1),(4.95,-.04),(5.0,-.13),(5.05,-.1),(5.1,-.14),(5.15,-.07),(5.25,-.1),(5.3,-.15),(5.35,-.12),(5.4,-.18),(5.45,-.09),
 (5.5,-.13),(5.55,-.08),(5.6,-.16),(5.65,-.1),(5.7,-.2),(5.75,-.08),(5.8,-.13),(5.85,-.17),(5.9,-.1),(5.95,-.14),(6.0,-.06),(6.05,-.18),(6.1,-.1),(6.15,-.12),(6.2,-.04),(6.25,-.15),(6.35,-.1),(6.4,-.02),(6.45,-.12),(6.5,-.04),(6.55,.02),(6.6,.0),(6.65,.1),(6.25,-.08)]
E5_curve = [(3.27,.287),(3.78,.187),(4.24,.082),(4.7,-.023),(5.15,-.086),(5.55,-.122),(6,-.128),(6.29,-.065),(6.58,.082),(6.8,.291),(7.03,.48),(7.32,.941),(7.54,1.34),(7.86,1.72)]
E6_pts = [(9.74,1.142),(9.47,1.096),(8.81,.925),(9.08,.878),(9.02,.735),(9.72,.717),(9.45,.696),(9.16,.661),(8.8,.624),(9.44,.619),(9.19,.592),(9.41,.587),(8.89,.561),(9.03,.536),(9.4,.526),(9.03,.481),(8.91,.425),(8.75,.258),(8.59,.236),
 (8.73,.21),(8.74,.147),(8.63,.147),(8.73,.106),(8.55,.05),(8.73,.022),(4.8,-.106),(4.9,.006),(5.43,-.006),(5.55,-.006),(5.67,.011),(5.92,.015),(5.95,.075),(5.92,-.013),(5.73,-.061),(6.04,-.04),(6.08,-.075),(6.31,-.075),(6.53,-.008),(6.69,-.019),
 (6.53,-.089),(6.56,-.131),(6.65,-.103),(6.89,-.11),(6.89,-.04),(7.08,.008),(7.14,-.103),(7.26,-.033),(7.47,.05),(7.47,.022),(7.35,-.131),(7.51,-.061),(7.63,-.089),(7.79,-.006),(8.03,-.006),(7.69,-.124),(7.91,-.165),(8.11,-.207),(8.18,-.158),
 (8.4,-.169),(8.3,-.117),(8.45,-.089),(7.93,-.075),(8.24,-.075),(8.42,-.019),(8.61,-.033),(8.67,.008),(8.3,-.04),(7.81,-.103),(8.06,-.117)]
E6_dense = [(6.7,-.06),(6.8,-.09),(6.95,-.08),(7.0,-.05),(7.05,-.11),(7.1,-.03),(7.2,-.09),(7.25,-.06),(7.3,-.01),(7.4,-.08),(7.45,-.04),(7.5,-.1),(7.55,-.02),(7.6,-.06),(7.65,-.03),(7.7,-.08),(7.75,-.13),(7.8,-.05),(7.85,-.09),(7.85,-.15),
 (7.9,-.02),(7.95,-.11),(8.0,-.06),(8.0,-.16),(8.05,-.09),(8.1,-.04),(8.1,-.14),(8.15,-.11),(8.2,-.05),(8.25,-.15),(8.3,-.09),(8.35,-.05),(8.35,-.13),(8.4,-.08),(8.45,-.03),(8.5,-.11),(8.55,-.05),(8.6,0.0),(8.65,-.06),(8.7,.05)]
E6_curve = [(4.82,-.017),(5.98,-.044),(6.71,-.058),(7.32,-.05),(7.69,-.075),(8.06,-.107),(8.24,-.061),(8.55,.106),(8.91,.383),(9.28,.689),(9.52,.939),(9.74,1.113)]
E7_pts = [(2.53,1.141),(8.26,1.101),(2.75,.767),(2.73,.446),(8.59,.825),(8.26,.767),(7.72,.726),(8.03,.699),(9.12,.702),(9.19,.661),(8.03,.627),(8.12,.585),(7.95,.544),(7.74,.538),(7.67,.36),(7.54,.257),(7.54,.164),(6.4,.205),(6.88,.127),(7.51,.114),
 (7.37,.09),(7.49,.07),(2.96,.186),(3.06,.13),(3.14,.066),(3.34,.014),(3.23,-.01),(3.34,-.051),(3.51,-.085),(3.72,-.153),(3.88,-.187),(4.25,-.181),(4.58,-.164),(4.16,-.112),(3.84,-.03),(4.12,-.037),(4.54,-.051),(4.87,.004),(4.99,-.027),(5.23,-.167),
 (4.74,-.14),(4.82,-.098),(5.4,-.03),(5.65,-.003),(6.02,-.003),(5.56,-.14),(5.98,-.133),(6.14,-.112),(5.73,-.085),(6.22,-.044),(6.39,.059),(6.52,.086),(6.68,-.085),(6.88,-.057),(7.21,-.016),(7.29,.018),(6.96,.052),(6.72,.038),(6.47,.018),(7.05,-.01),
 (5.07,-.071),(4.41,-.078),(4.08,-.064),(6.63,-.016)]
E7_dense = [(3.7,-.09),(3.8,-.12),(3.95,-.14),(4.0,-.08),(4.05,-.12),(4.2,-.09),(4.3,-.13),(4.35,-.06),(4.45,-.11),(4.5,-.14),(4.6,-.08),(4.7,-.11),(4.8,-.06),(4.9,-.1),(4.95,-.14),(5.05,-.09),(5.1,-.05),(5.2,-.11),(5.3,-.07),(5.35,-.13),
 (5.45,-.09),(5.55,-.06),(5.6,-.11),(5.7,-.05),(5.8,-.1),(5.85,-.03),(5.9,-.08),(6.0,-.06),(6.05,-.11),(6.1,-.02),(6.2,-.07),(6.3,-.01),(6.35,-.05),(6.45,.03),(6.55,-.03),(6.6,.05),(6.7,0.0),(6.8,.06),(6.85,-.02),(6.95,.0),(6.95,-.04),(7.1,.02),(6.55,.04)]
E7_curve = [(2.53,.579),(2.77,.408),(3.09,.23),(3.51,.011),(3.92,-.078),(4.41,-.092),(5.23,-.085),(5.81,-.064),(6.47,-.016),(6.88,.052),(7.37,.189),(8.03,.462),(8.69,.777),(9.19,1.037)]
E8_pts = [(7.83,1.296),(7.86,1.167),(8.27,1.029),(7.63,.964),(7.83,.935),(8.27,.88),(8.53,.904),(7.69,.685),(7.52,.565),(7.75,.565),(7.8,.496),(7.23,.396),(7.75,.401),(7.52,.349),(7.16,.298),(7.49,.306),(7.29,.238),(7.18,.212),(7.37,.186),(7.49,.148),
 (5.69,.164),(5.43,.108),(5.61,.108),(5.92,.074),(7.29,.065),(7.21,-.012),(7.26,-.064),(6.9,-.244),(6.5,-.219),(5.89,-.158),(6.28,-.184),(6.75,-.184),(6.98,-.15),(7.13,-.081),(6.75,-.003),(6.28,-.003),(6.2,-.046),(5.66,.031),(5.35,.04),(5.35,-.081),
 (5.74,-.064),(6.05,-.115),(6.51,-.064),(6.43,-.15),(6.9,-.098),(6.67,-.133),(2.26,-.038),(2.5,-.026),(2.76,.005),(3,.005),(3.66,-.021),(3.85,-.06),(3.94,.005),(4.24,.031),(4.67,.074),(4.44,-.081),(4.75,-.09),(4.52,-.021),(4.98,-.029),(4.83,.031),
 (5.06,.04),(5.14,-.081),(4.28,-.029),(4.9,.014)]
E8_dense = [(4.4,.0),(4.55,-.04),(4.6,.03),(4.7,-.05),(4.75,.0),(4.85,-.06),(4.95,.02),(5.0,-.06),(5.1,.0),(5.2,-.04),(5.25,.02),(5.3,-.06),(5.4,-.02),(5.45,-.08),(5.5,.0),(5.55,-.05),(5.6,-.1),(5.7,-.02),(5.75,-.12),(5.8,-.05),(5.85,-.1),(5.9,.0),
 (5.95,-.07),(6.0,-.14),(6.05,-.05),(6.1,-.11),(6.15,-.17),(6.2,-.08),(6.3,-.13),(6.35,-.06),(6.4,-.1),(6.45,-.18),(6.55,-.12),(6.6,-.16),(6.7,-.1),(6.75,-.14),(6.8,-.06),(6.85,-.16),(6.95,-.09),(7.0,-.05),(7.05,-.12),(7.1,-.02),(7.15,-.04),(7.2,.04)]
E8_curve = [(2.26,-.038),(3.04,-.012),(3.82,0),(4.59,.002),(5.19,-.003),(5.66,-.029),(6.12,-.081),(6.59,-.124),(6.75,-.107),(7.06,.04),(7.44,.315),(7.83,.694),(8.22,1.072),(8.52,1.425)]
E9_pts = [(8.94,.777),(9.07,.713),(6.68,.555),(9.5,.561),(9.54,.531),(9.41,.464),(9.41,.432),(9.01,.42),(6.79,.347),(6.92,.316),(8.92,.306),(8.92,.255),(8.91,.168),(8.91,.092),(8.85,.077),(6.17,.242),(6.46,.23),(6.84,.219),(6.58,.199),(6.79,.179),
 (5.42,.196),(5.52,.184),(5.6,.156),(5.85,.156),(5.97,.153),(6.09,.173),(6.35,.173),(6.58,.153),(4.76,.077),(6.11,.107),(6.23,.122),(6.29,.087),(6.4,.082),(6.64,.112),(6.78,.102),(6.88,.071),(6.82,.036),(6.99,.036),(6.84,-.02),(7.05,-.051),(7.11,-.005),
 (7.29,.046),(7.41,.054),(7.35,-.026),(7.35,-.087),(7.52,-.046),(7.64,-.036),(7.35,-.143),(7.58,-.128),(7.58,-.199),(7.58,-.219),(7.7,-.158),(7.91,-.214),(7.91,-.179),(7.88,-.056),(8.06,-.107),(8.17,-.056),(8.23,-.199),(8.35,-.194),(8.29,-.138),
 (8.47,-.163),(8.43,-.051),(8.41,-.117),(8.45,.046),(8.59,-.051),(8.59,-.087),(8.73,-.107),(8.79,-.031),(8.79,.015),(7.82,-.128),(8.06,-.158),(7.76,-.087),(8.23,-.097),(7.23,-.071),(6.94,.005)]
E9_dense = [(6.85,.08),(6.9,.02),(6.95,.1),(7.0,.05),(7.0,-.02),(7.05,.01),(7.1,.05),(7.15,-.04),(7.2,-.02),(7.25,-.06),(7.3,-.03),(7.3,-.1),(7.4,-.06),(7.4,-.11),(7.45,-.13),(7.5,-.08),(7.55,-.15),(7.6,-.09),(7.65,-.13),(7.7,-.07),(7.7,-.11),
 (7.75,-.17),(7.8,-.06),(7.85,-.14),(7.9,-.1),(7.95,-.07),(7.95,-.15),(8.0,-.12),(8.05,-.06),(8.1,-.1),(8.15,-.08),(8.15,-.15),(8.2,-.05),(8.25,-.12),(8.3,-.08),(8.35,-.05),(8.35,-.15),(8.4,-.1),(8.45,-.07),(8.5,-.11)]
E9_curve = [(4.76,.066),(5.22,.143),(5.7,.181),(6.05,.179),(6.4,.148),(6.76,.087),(7.11,-.015),(7.47,-.087),(7.82,-.117),(8.12,-.128),(8.35,-.097),(8.65,.015),(9,.219),(9.35,.505),(9.55,.679)]
E10_pts = [(3.11,.461),(6.13,.5),(6.3,.479),(6.84,.416),(7.13,.412),(6.83,.363),(6.89,.338),(5.84,.335),(5.87,.327),(6.06,.335),(6.03,.307),(3.75,.307),(6.27,.282),(3.09,.243),(6.74,.214),(3.93,.207),(3.97,.182),(6.33,.178),(2.9,.152),(3.01,.178),(3.18,.161),
 (3.64,.161),(3.96,.148),(4.35,.151),(5.86,.151),(6,.144),(5.98,.123),(2.93,.083),(3.09,.094),(3.05,.123),(3.28,.131),(3.54,.123),(3.8,.119),(3.33,.102),(3.16,.052),(3.26,.044),(3.49,.052),(3.65,.073),(3.54,0),(3.7,.027),(3.91,-.028),(3.86,.06),(4.12,.073),
 (4.3,.069),(4.07,.039),(4.33,.027),(4.57,.01),(4.17,-.036),(4.22,-.065),(4.01,-.011),(4.43,-.011),(4.54,-.04),(4.38,-.07),(4.43,-.095),(4.59,-.116),(4.54,-.153),(4.72,-.178),(4.9,-.241),(5.04,-.22),(4.74,-.141),(4.9,-.057),(5.11,-.07),(5.25,-.07),(5.01,-.103),
 (4.9,-.178),(5.08,-.132),(5.21,-.216),(5.45,-.208),(5.11,-.187),(5.32,-.162),(5.48,-.082),(5.5,-.153),(5.68,-.195),(5.74,-.187),(5.7,-.128),(5.76,-.061),(5.79,-.032),(5.95,.018),(5.79,.031),(5.95,.069),(5.53,-.157),(4.95,-.124),(4.85,-.103)]
E10_dense = [(3.4,.09),(3.45,.13),(3.55,.07),(3.6,.11),(3.7,.09),(3.75,.12),(3.75,.05),(3.85,.1),(3.9,.03),(3.95,.08),(4.0,.05),(4.05,-.03),(4.1,.01),(4.15,.04),(4.2,-.01),(4.25,.03),(4.3,-.03),(4.35,-.05),(4.4,.0),(4.45,-.07),(4.5,-.04),(4.55,-.08),
 (4.6,-.06),(4.65,-.12),(4.7,-.08),(4.75,-.1),(4.8,-.15),(4.85,-.08),(4.9,-.12),(4.95,-.16),(5.0,-.07),(5.05,-.17),(5.05,-.09),(5.1,-.11),(5.15,-.14),(5.2,-.09),(5.25,-.13),(5.3,-.1),(5.35,-.14),(5.4,-.12),(3.6,.14),(3.8,.14)]
E10_curve = [(2.92,.14),(3.28,.123),(3.7,.085),(4.07,.039),(4.43,-.044),(4.74,-.12),(5.08,-.153),(5.32,-.124),(5.68,-.011),(6,.081),(6.36,.215),(6.73,.374),(7.12,.571)]

e_titles = ["NOX4","ITGBL1","FAP","TEM200A","NOX4","LTBP2","GREM1","CCN2","SFRP2","INHBA"]
e_points = [E1_pts,E2_pts,E3_pts,E4_pts,E5_pts,E6_pts,E7_pts,E8_pts,E9_pts,E10_pts]
e_dense = [E1_dense,E2_dense,E3_dense,E4_dense,E5_dense,E6_dense,E7_dense,E8_dense,E9_dense,E10_dense]
e_curves = [E1_curve,E2_curve,E3_curve,E4_curve,E5_curve,E6_curve,E7_curve,E8_curve,E9_curve,E10_curve]
e_xticks = [[2,3,4,5,6],[3,4,5,6],[4,5,6,7],[2,4,6,8],[4,5,6,7,8],[5,6,7,8,9,10],[4,6,8],[2,4,6,8],[5,6,7,8,9],[3,4,5,6,7]]
e_yticks = [[0,1],[0,.5,1,1.5],[-.4,0,.4,.8,1.2],[-.3,0,.3,.6,.9],[0,.5,1,1.5],[0,.4,.8,1.2],[0,.4,.8,1.2],[0,.5,1,1.5],[-.25,0,.25,.5,.75],[-.2,0,.2,.4,.6]]
e_ylabels = [["0","1"],["0.0","0.5","1.0","1.5"],["−0.4","0.0","0.4","0.8","1.2"],["−0.3","0.0","0.3","0.6","0.9"],["0.0","0.5","1.0","1.5"],
 ["0.0","0.4","0.8","1.2"],["0.0","0.4","0.8","1.2"],["0.0","0.5","1.0","1.5"],["−0.25","0.00","0.25","0.50","0.75"],["−0.2","0.0","0.2","0.4","0.6"]]
e_xlim = [(1.96,6.59),(2.743,6.33),(3.154,7.587),(1.856,8.288),(3.02,8.09),(4.548,10),(2.189,9.531),(1.92,8.83),(4.516,9.79),(2.687,7.334)]
e_ylim = [(-.767,1.885),(-.374,1.643),(-.435,1.243),(-.351,.948),(-.392,1.825),(-.274,1.212),(-.253,1.211),(-.327,1.515),(-.263,.829),(-.281,.614)]

# ---------------- layout helpers ----------------
fig = plt.figure(figsize=(W/100, H/100), dpi=100, facecolor="white")
def fs(p): return p*.72
def axpx(l, t, r, b):
    return fig.add_axes([l/W, 1-b/H, (r-l)/W, (b-t)/H])
def tx(x, y, s, size, ha="center", va="center", rot=0, color="#111111", **k):
    fig.text(x/W, 1-y/H, s, fontsize=fs(size), ha=ha, va=va, rotation=rot, color=color, **k)
for s, x, y in [("A",50,102),("B",1336,102),("C",1336,1108),("D",1336,1946),("E",53,3280)]:
    tx(x, y, s, 70, ha="left", va="baseline", color="#231815")

# ---------------- Panel A ----------------
heat_df = pd.DataFrame({"GSE116918":gse116918,"TCGA":tcga,"GSE46602":gse46602,"GSE70769":gse70769}, index=methods)
heat_cmap = LinearSegmentedColormap.from_list("cidx", [((v-.5)/.5, c) for v, c in heat_stops], N=4096)
col_edges = [(611,704),(711,804),(812,905),(912,1005)]
hm_t, hm_b = 303, 3095
for i, (c, (l, r)) in enumerate(zip(cohort_order, col_edges)):
    ax = axpx(l, hm_t, r, hm_b)
    sns.heatmap(heat_df[[c]], ax=ax, cmap=heat_cmap, vmin=.5, vmax=1, annot=True, fmt=".3f", cbar=False,
                annot_kws={"size":fs(28),"color":"#151515"}, linewidths=.6, linecolor=(.35,.35,.35,.45),
                xticklabels=False, yticklabels=(methods if i == 0 else False))
    ax.set_xlabel(""); ax.set_ylabel("")
    ax.tick_params(axis="y", length=0, pad=fs(8), labelsize=fs(33), labelcolor="#111111", rotation=0)
    hd = axpx(l, 255, r, 295)
    hd.set_facecolor(cohort_colors[c]); hd.set_xticks([]); hd.set_yticks([])
    for sp in hd.spines.values(): sp.set_visible(False)
ax = axpx(1012, hm_t, 1248, hm_b)
sns.barplot(x=mean_cindex, y=methods, ax=ax, color="#0080B2", saturation=1, width=.86, orient="h")
ax.set_xlim(0, .779); ax.set_ylim(70.5, -.5)
ax.set_yticks([]); ax.set_xticks([0,.2,.4,.6]); ax.set_xticklabels(["0","0.2","0.4","0.6"])
ax.tick_params(axis="x", length=7, width=1.2, color="#aaaaaa", labelsize=fs(34), labelcolor="#111111", pad=fs(8), bottom=True)
for n, sp in ax.spines.items(): sp.set_visible(n == "bottom")
ax.spines["bottom"].set_color("#aaaaaa"); ax.spines["bottom"].set_linewidth(1.2)
for i, v in enumerate(mean_cindex):
    ax.text(v-.03, i, f"{v:g}", color="white", ha="right", va="center", fontsize=fs(26))
tx(611, 57, "C−index", 34, ha="left"); tx(746, 57, "Cohort", 38, ha="left")
cb = axpx(615, 79, 647, 244)
leg_cmap = LinearSegmentedColormap.from_list("cleg", legend_stops, N=512)
cb.imshow(np.linspace(1, 0, 256)[:, None], aspect="auto", cmap=leg_cmap, vmin=0, vmax=1)
cb.axis("off")
for y, s in [(89,"1"),(133,"0.8"),(185,"0.6"),(237,"0.4")]:
    tx(655, y, s, 34, ha="left")
for i, (c, y) in enumerate(zip(legend_cohorts, [93,124,156,188])):
    sw = axpx(740, 79+31*i, 771, 79+31*(i+1))
    sw.set_facecolor(cohort_colors[c]); sw.set_xticks([]); sw.set_yticks([])
    for sp in sw.spines.values(): sp.set_visible(False)
    tx(779, y, c, 35, ha="left")

# ---------------- Panel B ----------------
ax = axpx(1609, 125, 2858, 992)
sns.barplot(x=b_importance, y=b_genes, hue=b_genes, palette=b_colors, ax=ax, saturation=1, width=.9, legend=False, orient="h")
ax.set_xlim(-.00224, .0331); ax.set_ylim(19.58, -.58)
ax.set_xticks([0,.01,.02,.03]); ax.set_xticklabels(["0.00","0.01","0.02","0.03"])
ax.tick_params(axis="both", length=6, width=1.5, color="#333333", labelsize=fs(29), labelcolor="#333333", pad=fs(8), left=True, bottom=True)
sns.despine(ax=ax)
for sp in ("left","bottom"):
    ax.spines[sp].set_color("#231815"); ax.spines[sp].set_linewidth(2.2)
ax.set_xlabel(""); ax.set_ylabel("")
tx(2234, 1066, "fit.importance", 36)
tx(1417, 558, "reorder(gene, fit.importance)", 37, rot=90)

# ---------------- Panel C ----------------
ax = axpx(1609, 1135, 2896, 1732)
sns.lineplot(x=c_trees, y=c_error, ax=ax, color="black", linewidth=1.9, drawstyle="steps-post", estimator=None, errorbar=None)
ax.set_xlim(-37.7, 1040); ax.set_ylim(.311, .452)
ax.set_xticks([0,200,400,600,800,1000])
ax.set_yticks([.32,.34,.36,.38,.40,.42,.44])
ax.set_yticklabels(["0.32","","0.36","","0.40","","0.44"], rotation=90, va="center")
ax.tick_params(axis="x", length=fs(26), width=1, color="#999999", labelsize=fs(41), labelcolor="#111111", pad=fs(34), bottom=True)
ax.tick_params(axis="y", length=fs(26), width=1, color="#999999", labelsize=fs(42), labelcolor="#111111", pad=fs(32), left=True)
for sp in ax.spines.values():
    sp.set_color("black"); sp.set_linewidth(2.2); sp.set_visible(True)
tx(2284, 1855, "Number of Trees", 40)
tx(1430, 1440, "Error rate", 42, rot=90)

# ---------------- Panel D ----------------
ax = axpx(1603, 2021, 2904, 3098)
ax.set_facecolor("#EBEBEB")
rows = []
for ri, (core, tail) in enumerate(zip(d_core, d_tail)):
    for v, n, lo, hi in core:
        for k in range(n):
            rows.append((v, ri+(k-(n-1)/2)*.07, lo if k % 2 == 0 else hi))
    for v, lv in tail:
        rows.append((v, ri, lv))
d_df = pd.DataFrame(rows, columns=["shap","row","level"])
shap_cmap = LinearSegmentedColormap.from_list("shap", shap_colors)
ax.set_xticks([0,1]); ax.set_xticks([-.5,.5,1.5], minor=True)
ax.set_yticks(range(15)); ax.set_yticklabels([""]*15)
ax.grid(True, which="major", color="white", linewidth=1.6)
ax.grid(True, which="minor", axis="x", color="white", linewidth=.8)
ax.set_axisbelow(True)
ax.axvline(0, color="#9a9a9a", linewidth=1.2, zorder=1)
sns.scatterplot(data=d_df, x="shap", y="row", hue="level", palette=shap_cmap, hue_norm=(0,9), s=85, linewidth=0, ax=ax, legend=False, zorder=3)
ax.set_xlim(-.770, 1.853); ax.set_ylim(14.59, -.592)
ax.set_xlabel(""); ax.set_ylabel("")
ax.tick_params(axis="y", which="major", length=fs(8), width=1, color="#333333", left=True)
ax.tick_params(axis="x", which="both", length=0, labelsize=fs(33), labelcolor="#333333", pad=fs(8))
for sp in ax.spines.values(): sp.set_visible(False)
d_right = [1583,1588,1577,1608,1586,1586,1588,1588,1588,1584,1593,1576,1588,1582,1584]
for i, g in enumerate(d_genes):
    tx(d_right[i], 2063+70.9*i, g, 33, ha="right", zorder=10)
tx(1603, 1986, "SHAP Feature Importance", 34, ha="left")
tx(2263, 3157, "SHAP value", 34.5)
cb = axpx(2966, 2396, 2982, 2724)
cb.imshow(np.linspace(1, 0, 256)[:, None], aspect="auto", cmap=shap_cmap, vmin=0, vmax=1)
cb.axis("off")
tx(2999, 2393, "High", 33, ha="left"); tx(2999, 2723, "Low", 33, ha="left")
tx(2937, 2548, "Feature value", 34, rot=90)

# ---------------- Panel E ----------------
e_left = [(137,564),(713,1140),(1300,1725),(1902,2330),(2489,2914)]
e_rows = [(3285,3770),(3972,4459)]
e_title_x = [354,938,1522,2109,2698,346,926,1498,2114,2708]
e_ylab_x = [47,626,1200,1786,2389]
e_title_y = [3251,3251,3246,3246,3246,3929,3929,3929,3929,3929]
for i in range(10):
    r, c = divmod(i, 5)
    l, rgt = e_left[c]; t, b = e_rows[r]
    ax = axpx(l, t, rgt, b)
    pts = pd.DataFrame(e_points[i]+e_dense[i], columns=["expr","shap"])
    cur = pd.DataFrame(e_curves[i], columns=["expr","shap"])
    ax.set_xticks(e_xticks[i]); ax.set_yticks(e_yticks[i]); ax.set_yticklabels(e_ylabels[i])
    ax.grid(True, axis="x", color="#E6E6E6", linewidth=1.4)
    ax.grid(True, axis="y", color="#E6E6E6", linewidth=2.6)
    ax.set_axisbelow(True)
    sns.scatterplot(data=pts, x="expr", y="shap", ax=ax, color="#0F6CA6", alpha=.5, s=175, linewidth=0, zorder=3)
    sns.lineplot(data=cur, x="expr", y="shap", ax=ax, color="#FF0000", linewidth=3.6, estimator=None, errorbar=None, zorder=4, sort=False)
    ax.set_xlim(*e_xlim[i]); ax.set_ylim(*e_ylim[i])
    ax.set_xlabel(""); ax.set_ylabel("")
    ax.tick_params(axis="both", length=0, labelsize=fs(31), labelcolor="#222222")
    ax.tick_params(axis="x", pad=fs(18)); ax.tick_params(axis="y", pad=fs(18))
    for sp in ax.spines.values():
        sp.set_visible(True); sp.set_color("#111111"); sp.set_linewidth(2.2)
    tx(e_title_x[i], e_title_y[i], e_titles[i], 34, color="#222222")
    tx((l+rgt)/2-1, 3850 if r == 0 else 4539, "Expression Level", 39)
    tx(e_ylab_x[c], 3528 if r == 0 else 4215, "SHAP Value", 39, rot=90)

fig.savefig("out.png", dpi=100, facecolor="white")
